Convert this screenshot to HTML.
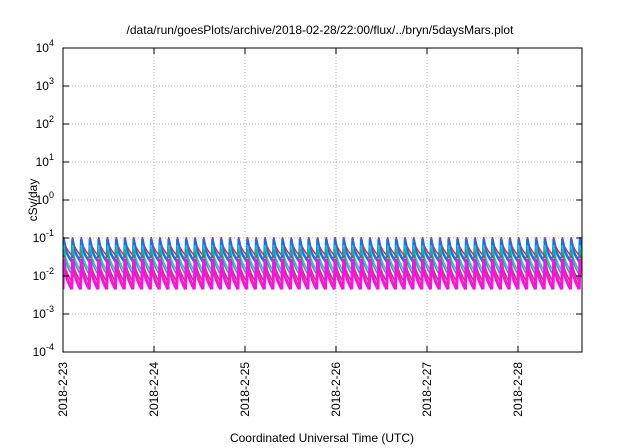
<!DOCTYPE html>
<html><head><meta charset="utf-8"><style>
body{margin:0;background:#fff;}
svg{display:block;font-family:"Liberation Sans",sans-serif;}
</style></head><body>
<svg id="chart" width="640" height="448">
<defs><clipPath id="pc"><rect x="63" y="48" width="519" height="304"/></clipPath></defs>
<rect width="640" height="448" fill="#fff"/>
<text x="320" y="34" text-anchor="middle" font-size="12">/data/run/goesPlots/archive/2018-02-28/22:00/flux/../bryn/5daysMars.plot</text>
<text transform="translate(37,200) rotate(-90)" text-anchor="middle" font-size="12">cSv/day</text>
<text x="322" y="442" text-anchor="middle" font-size="12">Coordinated Universal Time (UTC)</text>
<g id="grid"></g><g id="series" clip-path="url(#pc)"></g><g id="axes"></g>
<rect x="63" y="48" width="519" height="304" fill="none" stroke="#000" stroke-width="1"/>
</svg>
<script>
const dayLabels=["2018-2-23","2018-2-24","2018-2-25","2018-2-26","2018-2-27","2018-2-28"];
const yExps=[4,3,2,1,0,-1,-2,-3,-4];
const seriesNames=["red","blue","cyan","green","brown","yellow","magenta"];
const seriesColors=["#ff2020","#1e6ee8","#10c8e0","#10b090","#a04060","#e0d000","#ff10e0"];
const seriesWidths=[1.5,2.5,1.5,1.5,1.5,1.5,3];
const seriesPeak=[0.105,0.095,0.065,0.05,0.035,0.03,0.028];
const seriesTrough=[0.035,0.024,0.014,0.011,0.007,0.0055,0.0045];
const teethPerDay=10.4;
const startDay=0, endDay=5.71;
const ns="http://www.w3.org/2000/svg";
const X0=63,X1=582,pxDay=91,Y0=48,Y1=352;
const xs=d=>X0+(d-startDay)*pxDay;
const ys=v=>Y1-(Math.log10(v)+4)*(Y1-Y0)/8;
const grid=document.getElementById('grid'),axes=document.getElementById('axes'),ser=document.getElementById('series');
function mk(t,a,p){const e=document.createElementNS(ns,t);for(const k in a)e.setAttribute(k,a[k]);p.appendChild(e);return e;}
yExps.forEach(e=>{
  const y=ys(Math.pow(10,e));
  if(e<4&&e>-4){const g=mk('line',{x1:X0,x2:X1,y1:y,y2:y,stroke:'#bbb','stroke-dasharray':'1,2'},grid);
  
  }
  mk('line',{x1:X0,x2:X0+6,y1:y,y2:y,stroke:'#000'},axes);
  mk('line',{x1:X1,x2:X1-6,y1:y,y2:y,stroke:'#000'},axes);
  const t=mk('text',{x:54,y:y+4,'text-anchor':'end','font-size':12},axes);
  
  
  t.innerHTML='10<tspan dy="-6" font-size="9">'+e+'</tspan>';
});
dayLabels.forEach((l,i)=>{
  const x=xs(i);
  if(i>0){const g=mk('line',{x1:x,x2:x,y1:Y0,y2:Y1,stroke:'#bbb','stroke-dasharray':'1,2'},grid);
  
  }
  mk('line',{x1:x,x2:x,y1:Y1,y2:Y1-6,stroke:'#000'},axes);
  mk('line',{x1:x,x2:x,y1:Y0,y2:Y0+6,stroke:'#000'},axes);
  const t=mk('text',{transform:`translate(${x+4},362) rotate(-90)`,'text-anchor':'end','font-size':12},axes);
  
  
  t.textContent=l;
});
seriesNames.forEach((n,s)=>{
  const per=1/teethPerDay;let d='';
  for(let t=startDay;t<endDay;t+=per){
    const te=Math.min(t+per,endDay);
    const lp=Math.log10(seriesPeak[s]),lt=Math.log10(seriesTrough[s]);
    const tp=t+per*0.08;
    d+=(d?'L':'M')+xs(t).toFixed(1)+','+ys(seriesTrough[s]).toFixed(1)+'L'+xs(tp).toFixed(1)+','+ys(seriesPeak[s]).toFixed(1);
    for(let k=1;k<=4;k++){
      const tt=tp+(t+per-tp)*k/4; if(tt>te+1e-9)break;
      const f=Math.sqrt(k/4);
      d+='L'+xs(tt).toFixed(1)+','+ys(Math.pow(10,lp+(lt-lp)*f)).toFixed(1);
    }
  }
  const p=mk('path',{d:d,fill:'none',stroke:seriesColors[s],'stroke-width':seriesWidths[s]},ser);
  
  
});
</script>
</body></html>
